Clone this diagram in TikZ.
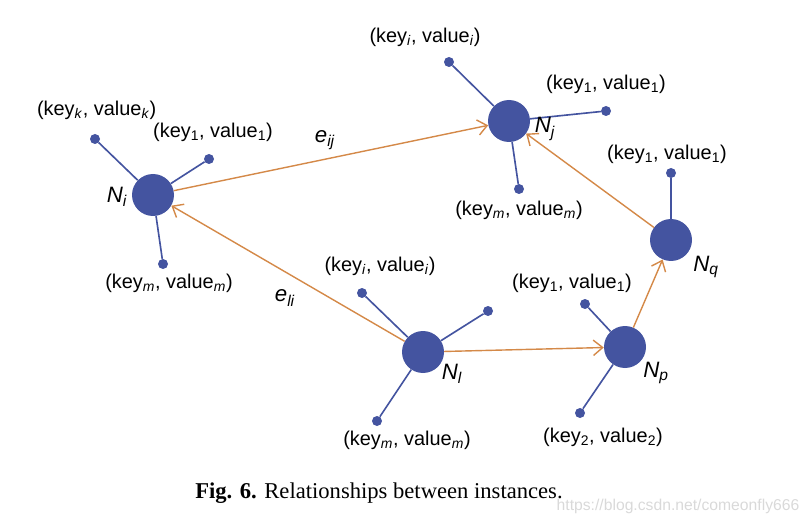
\documentclass[tikz,border=0pt]{standalone}
\usepackage{fontspec}
\setmainfont{Liberation Sans}
\newfontfamily\capfont{Liberation Serif}
\usepackage{tikz}
\usetikzlibrary{arrows.meta}

\definecolor{nodeblue}{RGB}{68,84,160}
\definecolor{edgeorange}{RGB}{212,137,72}
\newcommand{\kv}[2]{(key\textsubscript{#1}, value\textsubscript{#2})}
\newcommand{\nl}[1]{\textit{N}\textsubscript{\textit{#1}}}

\tikzset{
  inst/.style={circle, fill=nodeblue, minimum size=1.26cm, inner sep=0pt},
  kvdot/.style={circle, fill=nodeblue, minimum size=0.3cm, inner sep=0pt},
  attr/.style={draw=nodeblue, line width=1.4pt},
  rel/.style={draw=edgeorange, line width=1.2pt, -{Straight Barb[length=2.8mm,width=4.6mm]}},
  kvlabel/.style={font=\fontsize{17}{20}\selectfont},
  nlabel/.style={font=\fontsize{19}{22}\selectfont},
}

\begin{document}
\begin{tikzpicture}
        \useasboundingbox (0,0) rectangle (24.21,15.72);
        % instances
        \node[inst] (Ni) at (4.59,9.87) {};
        \node[inst] (Nj) at (15.27,12.09) {};
        \node[inst] (Nq) at (20.13,8.52) {};
        \node[inst] (Np) at (18.75,5.31) {};
        \node[inst] (Nl) at (12.69,5.16) {};
        % key-value pairs
        \node[kvdot] (Nik) at (2.85,11.55) {};
        \node[kvdot] (Ni1) at (6.27,10.95) {};
        \node[kvdot] (Nim) at (4.89,7.80) {};
        \node[kvdot] (Nji) at (13.47,13.86) {};
        \node[kvdot] (Nj1) at (18.18,12.39) {};
        \node[kvdot] (Njm) at (15.57,10.05) {};
        \node[kvdot] (Nq1) at (20.13,10.53) {};
        \node[kvdot] (Nli) at (10.86,6.93) {};
        \node[kvdot] (Nlx) at (14.64,6.39) {};
        \node[kvdot] (Nlm) at (11.31,3.09) {};
        \node[kvdot] (Np1) at (17.55,6.60) {};
        \node[kvdot] (Np2) at (17.40,3.33) {};

        \draw[attr] (Ni) -- (Nik);
        \draw[attr] (Ni) -- (Ni1);
        \draw[attr] (Ni) -- (Nim);
        \draw[attr] (Nj) -- (Nji);
        \draw[attr] (Nj) -- (Nj1);
        \draw[attr] (Nj) -- (Njm);
        \draw[attr] (Nq) -- (Nq1);
        \draw[attr] (Nl) -- (Nli);
        \draw[attr] (Nl) -- (Nlx);
        \draw[attr] (Nl) -- (Nlm);
        \draw[attr] (Np) -- (Np1);
        \draw[attr] (Np) -- (Np2);

        % relationships
        \draw[rel] (Ni) -- (Nj);
        \draw[rel] (Nl) -- (Ni);
        \draw[rel] (Nl) -- (Np);
        \draw[rel] (Np) -- (Nq);
        \draw[rel] (Nq) -- (Nj);

        \node[nlabel] (li) at (3.51,9.81) {\nl{i}};
        \node[nlabel] (lj) at (16.35,11.85) {\nl{j}};
        \node[nlabel] (lq) at (21.18,7.71) {\nl{q}};
        \node[nlabel] (lp) at (19.68,4.53) {\nl{p}};
        \node[nlabel] (ll) at (13.56,4.50) {\nl{l}};
        \node[nlabel] (eij) at (9.75,11.52) {\textit{e}\textsubscript{\textit{ij}}};
        \node[nlabel] (eli) at (8.55,6.78) {\textit{e}\textsubscript{\textit{li}}};

        \node[kvlabel] (tik) at (2.90,12.42) {\kv{\textit{k}}{\textit{k}}};
        \node[kvlabel] (ti1) at (6.39,11.76) {\kv{1}{1}};
        \node[kvlabel] (tim) at (5.07,7.23) {\kv{\textit{m}}{\textit{m}}};
        \node[kvlabel] (tji) at (12.75,14.61) {\kv{\textit{i}}{\textit{i}}};
        \node[kvlabel] (tj1) at (18.18,13.20) {\kv{1}{1}};
        \node[kvlabel] (tjm) at (15.57,9.42) {\kv{\textit{m}}{\textit{m}}};
        \node[kvlabel] (tq1) at (20.01,11.10) {\kv{1}{1}};
        \node[kvlabel] (tli) at (11.40,7.74) {\kv{\textit{i}}{\textit{i}}};
        \node[kvlabel] (tp1) at (17.16,7.23) {\kv{1}{1}};
        \node[kvlabel] (tlm) at (12.21,2.52) {\kv{\textit{m}}{\textit{m}}};
        \node[kvlabel] (tp2) at (18.09,2.61) {\kv{2}{2}};

        \node[font=\capfont\fontsize{19.3}{23}\selectfont] (cap) at (11.37,0.93) {\textbf{Fig. 6.} Relationships between instances.};
        \node[font=\fontsize{13.4}{15}\selectfont, text=black!15] (wm) at (20.34,0.54) {https://blog.csdn.net/comeonfly666};
        \end{tikzpicture}
\end{document}
